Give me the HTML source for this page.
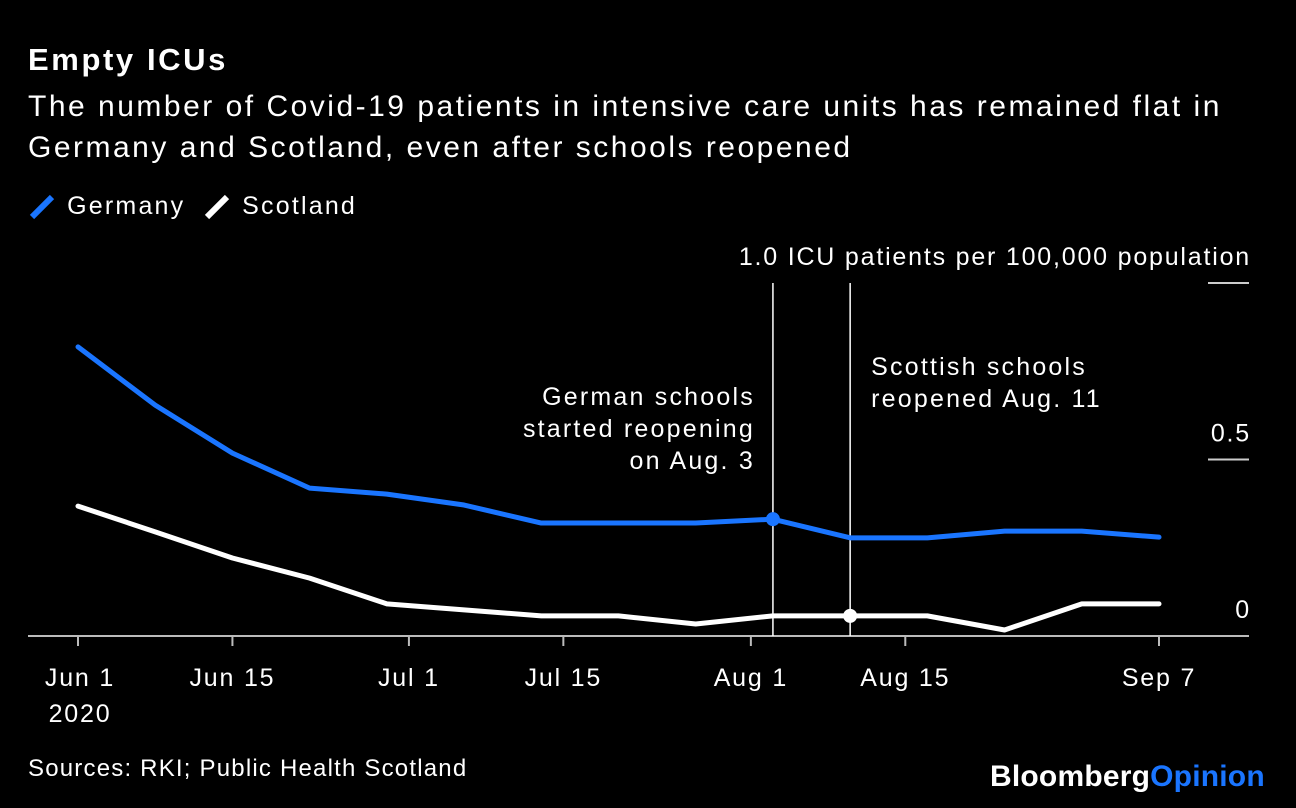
<!DOCTYPE html>
<html><head><meta charset="utf-8"><style>
html,body{margin:0;padding:0;background:#000;}
body{width:1296px;height:808px;overflow:hidden;font-family:"Liberation Sans",sans-serif;color:#fff;position:relative;}
.t{position:absolute;white-space:nowrap;}
svg text{letter-spacing:1.8px;}
</style></head><body>
<div class="t" style="left:28px;top:42px;font-size:31px;font-weight:bold;letter-spacing:2.6px;">Empty ICUs</div>
<div class="t" style="left:28px;top:86px;font-size:30px;line-height:41px;letter-spacing:2.5px;">The number of Covid-19 patients in intensive care units has remained flat in<br>Germany and Scotland, even after schools reopened</div>
<div style="position:absolute;left:28px;top:192px;font-size:25px;letter-spacing:2.2px;">
<span style="position:absolute;left:0;top:0;white-space:nowrap;"><svg width="30" height="30" style="vertical-align:middle"><line x1="4" y1="25" x2="24" y2="5" stroke="#1a75ff" stroke-width="6"/></svg> Germany</span>
<span style="position:absolute;left:175px;top:0;white-space:nowrap;"><svg width="30" height="30" style="vertical-align:middle"><line x1="4" y1="25" x2="24" y2="5" stroke="#fff" stroke-width="6"/></svg> Scotland</span>
</div>
<svg id="chart" width="1296" height="808" style="position:absolute;left:0;top:0"></svg>
<div class="t" style="left:28px;top:755px;font-size:24px;letter-spacing:1.2px;">Sources: RKI; Public Health Scotland</div>
<div class="t" style="left:990px;top:760px;font-size:30px;font-weight:bold;letter-spacing:0.2px;">Bloomberg<span style="color:#1a75ff">Opinion</span></div>
<script>
const dayOffsets=[0,7,14,21,28,35,42,49,56,63,70,77,84,91,98];
const germany=[0.819,0.654,0.518,0.419,0.402,0.371,0.32,0.32,0.32,0.331,0.278,0.278,0.297,0.297,0.28];
const scotland=[0.368,0.295,0.221,0.164,0.091,0.074,0.057,0.057,0.034,0.057,0.057,0.057,0.017,0.091,0.091];
const xTickDays=[0,14,30,44,61,75,98];
const xTickLabels=["Jun 1","Jun 15","Jul 1","Jul 15","Aug 1","Aug 15","Sep 7"];
const yTicks=[0,0.5,1.0];
const yTickLabels=["0","0.5","1.0 ICU patients per 100,000 population"];
const eventDays=[63,70];
const NS="http://www.w3.org/2000/svg";
const svg=document.getElementById('chart');
const x=d=>78+d*(1081/98);
const y=v=>636-v*353;
function mk(tag,attrs,parent){const e=document.createElementNS(NS,tag);for(const k in attrs)e.setAttribute(k,attrs[k]);(parent||svg).appendChild(e);return e;}
yTicks.forEach((v,i)=>{
  const l=mk('line',{x1:v===0?28:1208,x2:1249,y1:y(v),y2:y(v),stroke:v===0?'#bbb':'#ccc','stroke-width':2});
  
  
  const t=mk('text',{x:1251,y:y(v)-18,'text-anchor':'end',fill:'#fff','font-size':25,'font-family':'Liberation Sans'});
  t.textContent=yTickLabels[i];
  
  
});
xTickDays.forEach((d,i)=>{
  const l=mk('line',{x1:x(d),x2:x(d),y1:636,y2:646,stroke:'#bbb','stroke-width':2});
  
  
  const t=mk('text',{x:x(d)+(i===0?2:0),y:686,'text-anchor':'middle',fill:'#fff','font-size':25,'font-family':'Liberation Sans'});
  t.textContent=xTickLabels[i];
  
  
});
const yr=mk('text',{x:x(0)+2,y:722,'text-anchor':'middle',fill:'#fff','font-size':25,'font-family':'Liberation Sans'});
yr.textContent='2020';


eventDays.forEach(d=>{
  const l=mk('line',{x1:x(d),x2:x(d),y1:y(1.0),y2:636,stroke:'#fff','stroke-width':1.5});
  
  
});
function ann(lines,xx,yy,anchor,name){
  const t=mk('text',{x:xx,y:yy,'text-anchor':anchor,fill:'#fff','font-size':25,'font-family':'Liberation Sans'});
  
  
  t.style.letterSpacing='2.2px';
  lines.forEach((s,i)=>{const ts=mk('tspan',{x:xx,dy:i?32:0},t);ts.textContent=s;});
}
ann(["German schools","started reopening","on Aug. 3"],x(eventDays[0])-18,405,'end','annotation-germany');
ann(["Scottish schools","reopened Aug. 11"],x(eventDays[1])+21,375,'start','annotation-scotland');
function series(vals,color,name){
  const p=mk('polyline',{points:vals.map((v,i)=>x(dayOffsets[i])+','+y(v)).join(' '),fill:'none',stroke:color,'stroke-width':5,'stroke-linejoin':'round','stroke-linecap':'round'});
  
  
}
series(germany,'#1a75ff','germany-line');
series(scotland,'#fff','scotland-line');
const d1=mk('circle',{cx:x(eventDays[0]),cy:y(germany[9]),r:7,fill:'#1a75ff'});


const d2=mk('circle',{cx:x(eventDays[1]),cy:y(scotland[10]),r:7,fill:'#fff'});


</script>
</body></html>
